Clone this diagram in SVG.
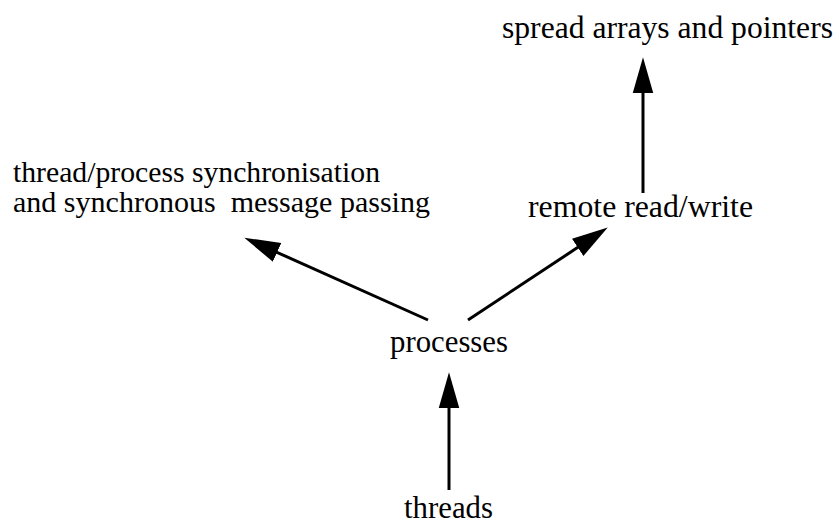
<svg xmlns="http://www.w3.org/2000/svg" width="839" height="525" viewBox="0 0 839 525">
<style>
.lbl{font-family:"Liberation Serif","Times New Roman",serif;font-size:31px;fill:#000}
.sync{font-size:30px}
.conn{stroke:#000;stroke-width:3;fill:none;marker-end:url(#ah)}
</style>
<defs>
<marker id="ah" markerUnits="userSpaceOnUse" markerWidth="36" markerHeight="22" viewBox="0 0 35 20" refX="5" refY="10" orient="auto">
<path d="M0,0 L35,10 L0,20 z" fill="#000"/>
</marker>
</defs>
<rect width="839" height="525" fill="#fff"/>
<g id="connectors">
<line class="conn" x1="449" y1="490" x2="449" y2="403"/>
<line class="conn" x1="428" y1="320" x2="272.4" y2="250.3"/>
<line class="conn" x1="468" y1="320" x2="582" y2="244.6"/>
<line class="conn" x1="643" y1="193" x2="643" y2="88"/>
</g>
<g id="spread"><text class="lbl" x="502" y="38" textLength="331" lengthAdjust="spacingAndGlyphs">spread arrays and pointers</text></g>
<g id="sync"><text class="lbl sync" x="13" y="182" textLength="367" lengthAdjust="spacingAndGlyphs">thread/process synchronisation</text><text class="lbl sync" x="13" y="212" xml:space="preserve" textLength="417" lengthAdjust="spacingAndGlyphs">and synchronous  message passing</text></g>
<g id="remote"><text class="lbl" x="528" y="217" textLength="225" lengthAdjust="spacingAndGlyphs">remote read/write</text></g>
<g id="processes"><text class="lbl" x="390" y="352" textLength="118" lengthAdjust="spacingAndGlyphs">processes</text></g>
<g id="threads"><text class="lbl" x="404" y="518" textLength="89" lengthAdjust="spacingAndGlyphs">threads</text></g>
</svg>
